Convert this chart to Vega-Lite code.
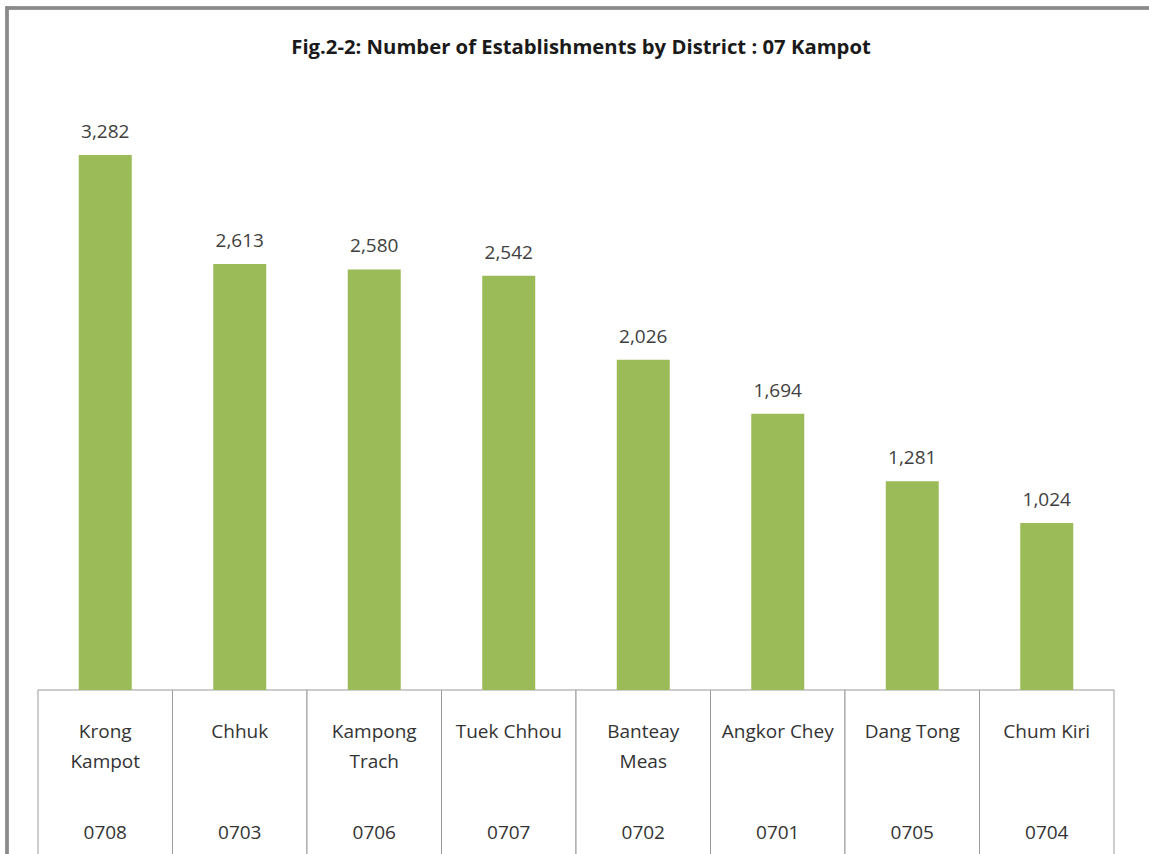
{
  "$schema": "https://vega.github.io/schema/vega-lite/v6.json",
  "width": 1142,
  "height": 846,
  "autosize": {"type": "none"},
  "padding": {"left": 7, "top": 8, "right": 0, "bottom": 0},
  "background": "white",
  "config": {"view": {"stroke": null}},
  "title": {
    "text": "Fig.2-2: Number of Establishments by District : 07 Kampot",
    "font": "Open Sans",
    "fontSize": 20.3,
    "fontWeight": "bold",
    "color": "#1a1a1a",
    "anchor": "middle",
    "baseline": "alphabetic",
    "offset": -68,
    "dx": 3
  },
  "data": {
    "values": [
      {"district": "Krong Kampot", "label": "Krong\nKampot", "code": "0708", "value": 3282},
      {"district": "Chhuk", "label": "Chhuk", "code": "0703", "value": 2613},
      {"district": "Kampong Trach", "label": "Kampong\nTrach", "code": "0706", "value": 2580},
      {"district": "Tuek Chhou", "label": "Tuek Chhou", "code": "0707", "value": 2542},
      {"district": "Banteay Meas", "label": "Banteay\nMeas", "code": "0702", "value": 2026},
      {"district": "Angkor Chey", "label": "Angkor Chey", "code": "0701", "value": 1694},
      {"district": "Dang Tong", "label": "Dang Tong", "code": "0705", "value": 1281},
      {"district": "Chum Kiri", "label": "Chum Kiri", "code": "0704", "value": 1024}
    ]
  },
  "layer": [
    {
      "encoding": {
        "x": {
          "field": "district",
          "type": "nominal",
          "sort": null,
          "axis": null,
          "scale": {"paddingInner": 0, "paddingOuter": 0.24535, "align": 0.4697}
        }
      },
      "layer": [
        {
          "mark": {"type": "rect", "fill": "white", "stroke": "#9a9a9a", "strokeWidth": 1},
          "encoding": {
            "y": {"datum": 0, "type": "quantitative", "scale": {"domain": [-1006.1, 4183.8], "nice": false, "zero": false}, "axis": null},
            "y2": {"datum": -1030}
          }
        },
        {
          "mark": {"type": "bar", "color": "#9BBB59", "width": {"band": 0.394}},
          "encoding": {
            "y": {"field": "value", "type": "quantitative"}
          }
        },
        {
          "mark": {"type": "text", "font": "Open Sans", "fontSize": 19, "color": "#404040", "baseline": "alphabetic", "dy": -17},
          "encoding": {
            "y": {"field": "value", "type": "quantitative"},
            "text": {"field": "value", "type": "quantitative", "format": ","}
          }
        },
        {
          "mark": {"type": "text", "font": "Open Sans", "fontSize": 19, "color": "#333333", "baseline": "alphabetic", "lineBreak": "\n", "lineHeight": 30},
          "encoding": {
            "y": {"datum": -295, "type": "quantitative"},
            "text": {"field": "label", "type": "nominal"}
          }
        },
        {
          "mark": {"type": "text", "font": "Open Sans", "fontSize": 19, "color": "#333333", "baseline": "alphabetic"},
          "encoding": {
            "y": {"datum": -914, "type": "quantitative"},
            "text": {"field": "code", "type": "nominal"}
          }
        }
      ]
    },
    {
      "mark": {"type": "rule", "color": "#8a8a8a", "strokeWidth": 2.5, "strokeCap": "square"},
      "encoding": {
        "y": {"datum": 4183.8, "type": "quantitative"}
      }
    },
    {
      "mark": {"type": "rule", "color": "#8a8a8a", "strokeWidth": 2.5, "strokeCap": "square"},
      "encoding": {
        "x": {"datum": 0, "type": "quantitative", "scale": {"domain": [0, 1], "nice": false, "zero": false}, "axis": null}
      }
    }
  ],
  "resolve": {"scale": {"x": "independent"}}
}
